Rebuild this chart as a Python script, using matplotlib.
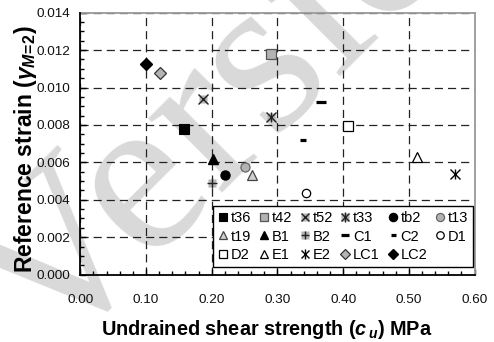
import matplotlib
matplotlib.use('Agg')
import matplotlib.pyplot as plt
from matplotlib.ticker import MultipleLocator, FormatStrFormatter
from matplotlib.legend_handler import HandlerTuple

plt.rcParams['font.family'] = ['Liberation Sans', 'DejaVu Sans']
plt.rcParams['mathtext.fontset'] = 'custom'
plt.rcParams['mathtext.it'] = 'Liberation Sans:italic:bold'
plt.rcParams['mathtext.rm'] = 'Liberation Sans:bold'
plt.rcParams['mathtext.bf'] = 'Liberation Sans:bold'

# ---- data ----
series = ['t36', 't42', 't52', 't33', 'tb2', 't13',
          't19', 'B1', 'B2', 'C1', 'C2', 'D1',
          'D2', 'E1', 'E2', 'LC1', 'LC2']
cu = [0.158, 0.290, 0.186, 0.290, 0.220, 0.251,
      0.262, 0.202, 0.200, 0.366, 0.339, 0.344,
      0.408, 0.512, 0.571, 0.122, 0.100]
gamma = [0.00777, 0.01180, 0.00940, 0.00842, 0.00533, 0.00576,
         0.00533, 0.00620, 0.00490, 0.00922, 0.00722, 0.00437,
         0.00793, 0.00629, 0.00537, 0.01080, 0.01127]
x_ticks = [0.0, 0.1, 0.2, 0.3, 0.4, 0.5, 0.6]
y_ticks = [0.0, 0.002, 0.004, 0.006, 0.008, 0.010, 0.012, 0.014]

# ---- styles ----
G = '#b3b3b3'
styles = {
    't36': [dict(marker='s', ms=6.5, mfc='black', mec='black', mew=0.8)],
    't42': [dict(marker='s', ms=6.5, mfc=G, mec='#555555', mew=0.9)],
    't52': [dict(marker='s', ms=6.0, mfc=G, mec='none'),
            dict(marker='x', ms=6.5, mec='#222222', mew=1.0)],
    't33': [dict(marker='s', ms=6.0, mfc=G, mec='none'),
            dict(marker='x', ms=6.5, mec='#222222', mew=1.0),
            dict(marker='|', ms=7.5, mec='#222222', mew=1.0)],
    'tb2': [dict(marker='o', ms=6.5, mfc='black', mec='black')],
    't13': [dict(marker='o', ms=6.5, mfc=G, mec='#666666', mew=0.9)],
    't19': [dict(marker='^', ms=6.5, mfc='#cfcfcf', mec='#444444', mew=0.9)],
    'B1':  [dict(marker='^', ms=6.5, mfc='black', mec='black')],
    'B2':  [dict(marker='s', ms=6.0, mfc=G, mec='none'),
            dict(marker='+', ms=7.0, mec='#222222', mew=1.0)],
    'C1':  [dict(marker='_', ms=7.0, mec='black', mew=2.3)],
    'C2':  [dict(marker='_', ms=4.0, mec='black', mew=2.3)],
    'D1':  [dict(marker='o', ms=6.0, mfc='white', mec='black', mew=0.9)],
    'D2':  [dict(marker='s', ms=6.5, mfc='white', mec='black', mew=0.9)],
    'E1':  [dict(marker='^', ms=6.5, mfc='white', mec='black', mew=0.9)],
    'E2':  [dict(marker='x', ms=6.5, mec='black', mew=1.0),
            dict(marker='|', ms=7.5, mec='black', mew=1.0)],
    'LC1': [dict(marker='D', ms=6.0, mfc=G, mec='#333333', mew=0.9)],
    'LC2': [dict(marker='D', ms=6.0, mfc='black', mec='black')],
}

fig = plt.figure(figsize=(4.94, 3.42), dpi=100)
fig.patch.set_facecolor('white')

# watermark (behind everything)
wm = fig.text(0.52, 0.77, 'Version', rotation=45, ha='center', va='center',
              rotation_mode='anchor', fontsize=165, family='Liberation Serif',
              color='#d9d9d9')
wm.set_zorder(-5)

ax = fig.add_axes([0.1626, 0.197, 0.798, 0.766])
ax.set_zorder(1)
ax.patch.set_alpha(0)

handles = []
for name, x, y in zip(series, cu, gamma):
    hs = []
    for st in styles[name]:
        ln, = ax.plot([x], [y], linestyle='none', zorder=5, **st)
        hs.append(ln)
    handles.append(tuple(hs))

ax.set_xlim(0, 0.6)
ax.set_ylim(0, 0.014)
ax.set_xticks(x_ticks)
ax.set_yticks(y_ticks)
ax.xaxis.set_minor_locator(MultipleLocator(0.02))
ax.yaxis.set_minor_locator(MultipleLocator(0.0005))
ax.xaxis.set_major_formatter(FormatStrFormatter('%.2f'))
ax.yaxis.set_major_formatter(FormatStrFormatter('%.3f'))
ax.tick_params(axis='both', which='both', direction='in', top=False, right=False,
               color='black', width=1.0)
ax.tick_params(axis='both', which='major', length=4, labelsize=9.7, labelcolor='#111111')
ax.tick_params(axis='both', which='minor', length=3)
ax.tick_params(axis='x', which='major', pad=14)
ax.tick_params(axis='y', which='major', pad=7)

ax.grid(True, which='major', color='#222222', linestyle=(0, (6.5, 4)), linewidth=0.9)
ax.set_axisbelow(True)

for s in ['left', 'bottom']:
    ax.spines[s].set_color('black')
    ax.spines[s].set_linewidth(1.3)
    ax.spines[s].set_zorder(6)
for s in ['top', 'right']:
    ax.spines[s].set_color('#9a9a9a')
    ax.spines[s].set_linewidth(1.3)

ax.set_xlabel(r'Undrained shear strength ($c_{\,u}$) MPa', fontsize=14.3, fontweight='bold')
ax.xaxis.set_label_coords(0.472, -0.165)
ax.set_ylabel(r'Reference strain ($\gamma_{M\!=\!2}$)', fontsize=16.5, fontweight='bold')
ax.yaxis.set_label_coords(-0.105, 0.479)

# legend in row-major order across 6 columns
ncol = 6
nrow = 3
order = []
for c in range(ncol):
    for r in range(nrow):
        i = r * ncol + c
        if i < len(series):
            order.append(i)
leg = ax.legend([handles[i] for i in order], [series[i] for i in order],
                handler_map={tuple: HandlerTuple(ndivide=1, pad=0)},
                ncol=ncol, loc='lower right', bbox_to_anchor=(0.996, 0.029),
                borderaxespad=0, frameon=True, fancybox=False, fontsize=10.5,
                handlelength=0.65, handletextpad=0.2, columnspacing=0.55,
                labelspacing=0.3, borderpad=0.35, markerscale=0.9)
leg.get_frame().set_edgecolor('black')
leg.get_frame().set_linewidth(1.0)
leg.get_frame().set_facecolor('white')
leg.get_frame().set_alpha(1)
leg.set_zorder(10)

fig.savefig('out.png', dpi=100, facecolor='white')
